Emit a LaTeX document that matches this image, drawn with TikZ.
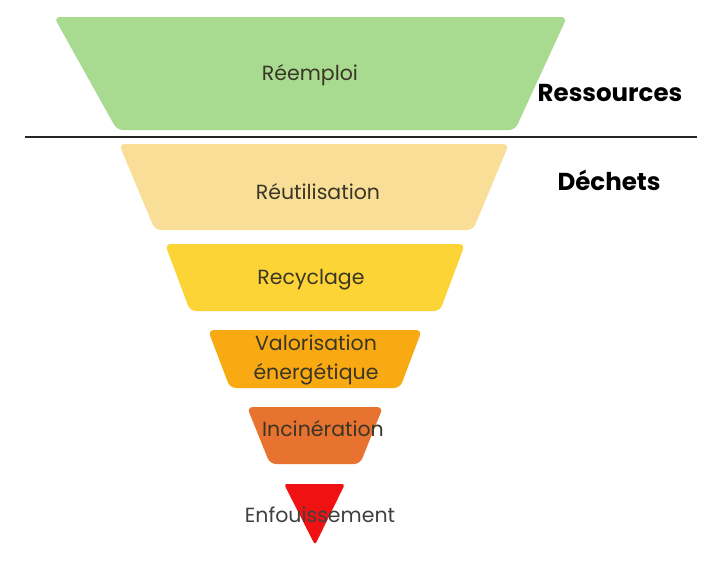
\documentclass[tikz,border=0pt]{standalone}
\usepackage{fontspec}
\setmainfont{Poppins}
\definecolor{reemploi}{HTML}{A8DA8F}
\definecolor{reutil}{HTML}{F8DE97}
\definecolor{recycl}{HTML}{FDD436}
\definecolor{valo}{HTML}{F9AA12}
\definecolor{incin}{HTML}{E8722F}
\definecolor{enfou}{HTML}{F01212}
\definecolor{texte}{HTML}{3A3626}
\tikzset{
  etage/.style={rounded corners=6pt},
  lbl/.style={font=\fontsize{20.5}{29}\selectfont, text=texte, align=center},
  titre/.style={font=\fontsize{24.5}{28}\selectfont\bfseries, text=black}
}
\begin{document}
\begin{tikzpicture}[x=1pt,y=-1pt]
        \useasboundingbox[fill=white] (0,0) rectangle (718,560);

        % Reemploi
        \fill[reemploi, etage] (54,17) -- (567,17) -- (515,130) -- (117,130) -- cycle;
        \node[lbl] (reemploi) at (310,75) {Réemploi};

        % separation
        \coordinate (sepA) at (25,137);
        \coordinate (sepB) at (697,137);
        \draw[line width=2.2pt, black!85] (sepA) -- (sepB);
        \node[titre] (ressources) at (610,93) {Ressources};
        \node[titre] (dechets) at (609,180) {Déchets};

        % Reutilisation
        \fill[reutil, etage] (119,144) -- (509,144) -- (473,230) -- (155,230) -- cycle;
        \node[lbl] (reutilisation) at (318,192) {Réutilisation};

        % Recyclage
        \fill[recycl, etage] (165,244) -- (465,244) -- (440,311) -- (190,311) -- cycle;
        \node[lbl] (recyclage) at (311,280) {Recyclage};

        % Valorisation
        \fill[valo, etage] (208,330) -- (422,330) -- (400,388) -- (230,388) -- cycle;
        \node[lbl] (valorisation) at (316,360) {Valorisation\\énergétique};

        % Incineration
        \fill[incin, etage] (247,407) -- (383,407) -- (360,464) -- (270,464) -- cycle;
        \node[lbl] (incineration) at (323,429) {Incinération};

        % Enfouissement
        \fill[enfou, rounded corners=3pt] (284,484) -- (345,484) -- (315,545) -- cycle;
        \node[lbl, text=black!75] (enfouissement) at (320,515) {Enfouissement};
    \end{tikzpicture}
\end{document}
